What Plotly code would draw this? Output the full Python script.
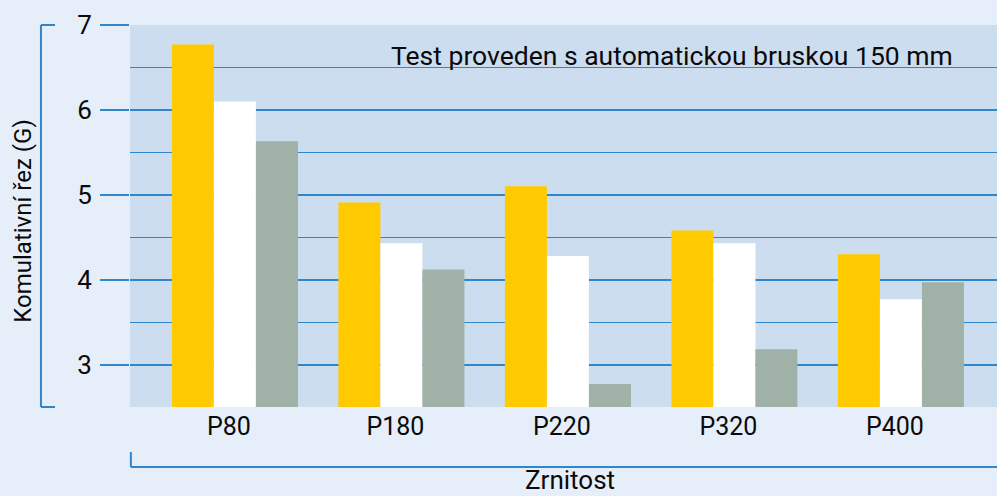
import plotly.graph_objects as go

categories = ["P80", "P180", "P220", "P320", "P400"]
series_a = [6.77, 4.91, 5.10, 4.58, 4.30]   # yellow
series_b = [6.10, 4.43, 4.28, 4.43, 3.77]   # white
series_c = [5.63, 4.12, 2.77, 3.18, 3.97]   # grey
y_ticks = [3, 4, 5, 6, 7]

BLUE = "#2F86CC"
FONT = "Roboto"

fig = go.Figure()
for vals, col in [(series_a, "#FFCB00"), (series_b, "#FFFFFF"), (series_c, "#A0B1A8")]:
    fig.add_trace(go.Bar(x=list(range(len(categories))), y=vals, marker=dict(color=col, line=dict(width=0)),
                         showlegend=False, hoverinfo="skip"))

fig.update_layout(
    width=997, height=496,
    margin=dict(l=130, r=0, t=25, b=89),
    paper_bgcolor="#E6EEF9",
    plot_bgcolor="#CDDDF0",
    barmode="group", bargap=0.243, bargroupgap=0,
    font=dict(family=FONT, color="#0A0A0A", size=24),
    xaxis=dict(range=[-0.63, 4.577], tickvals=list(range(len(categories))), ticktext=categories,
               showgrid=False, zeroline=False, showline=False, ticks="",
               tickfont=dict(size=25), ticklabelshift=-6, ticklabelstandoff=2),
    yaxis=dict(range=[2.5, 7], tickvals=y_ticks, ticks="outside", ticklen=29, tickwidth=1.5,
               tickcolor=BLUE, showgrid=True, gridcolor=BLUE, gridwidth=1.5, zeroline=False,
               showline=False, tickfont=dict(size=26), ticklabelstandoff=3,
               minor=dict(dtick=0.5, tick0=2.5, showgrid=True, gridcolor=BLUE, gridwidth=1.2, ticks="")),
    annotations=[
        dict(text="Test proveden s automatickou bruskou 150 mm", xref="paper", yref="paper",
             x=0.951, y=0.921, xanchor="right", yanchor="middle", showarrow=False,
             font=dict(size=26.5, family=FONT, color="#0A0A0A")),
        dict(text="Zrnitost", xref="paper", yref="paper", x=0.507, y=-0.15, xanchor="center",
             yanchor="top", showarrow=False, borderpad=0,
             font=dict(size=26, family=FONT, color="#0A0A0A")),
        dict(text="Komulativní řez (G)", xref="paper", yref="paper", x=-0.123, y=0.486,
             xanchor="center", yanchor="middle", textangle=-90, showarrow=False,
             font=dict(size=24, family=FONT, color="#0A0A0A")),
    ],
    shapes=[
        # left bracket
        dict(type="line", xref="paper", yref="paper", x0=-0.1027, x1=-0.1027, y0=0, y1=1,
             line=dict(color=BLUE, width=2)),
        dict(type="line", xref="paper", yref="paper", x0=-0.1027, x1=-0.0865, y0=1, y1=1,
             line=dict(color=BLUE, width=2)),
        dict(type="line", xref="paper", yref="paper", x0=-0.1027, x1=-0.0865, y0=0, y1=0,
             line=dict(color=BLUE, width=2)),
        # bottom bracket
        dict(type="line", xref="paper", yref="paper", x0=0.001, x1=1, y0=-0.157, y1=-0.157,
             line=dict(color=BLUE, width=2)),
        dict(type="line", xref="paper", yref="paper", x0=0.001, x1=0.001, y0=-0.157, y1=-0.118,
             line=dict(color=BLUE, width=2)),
    ],
)

fig.write_html("out.html", config={"displayModeBar": False},
               post_script="document.body.style.margin='0';document.body.style.overflow='hidden';")
